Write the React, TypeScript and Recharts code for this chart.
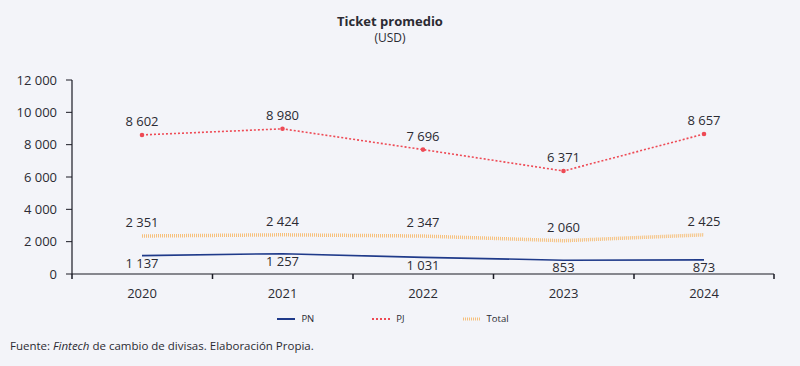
import React from 'react';
import { LineChart, Line, XAxis, YAxis, LabelList } from 'recharts';

const years = ['2020', '2021', '2022', '2023', '2024'];
const pn = [1137, 1257, 1031, 853, 873];
const pj = [8602, 8980, 7696, 6371, 8657];
const total = [2351, 2424, 2347, 2060, 2425];
const yTicks = [0, 2000, 4000, 6000, 8000, 10000, 12000];

const data = years.map((y, i) => ({ year: y, PN: pn[i], PJ: pj[i], Total: total[i] }));

const fmt = (v: any) => String(v).replace(/\B(?=(\d{3})+(?!\d))/g, ' ');

const FONT = '"Open Sans", "Noto Sans", sans-serif';
const TXT = '#2b2b33';
const BG = '#f3f4f9';
const AX = '#1a1a24';
const C_PN = '#1f3a8a';
const C_PJ = '#ee4a55';
const C_TOT = '#f6c07c';
const HALF_BAND = 70;

const legendItems = [
  { name: 'PN', color: C_PN, dash: undefined as any, w: 2 },
  { name: 'PJ', color: C_PJ, dash: '2 2', w: 2 },
  { name: 'Total', color: C_TOT, dash: '1 1', w: 3 },
];

const LegendBox = () => (
  <div style={{ position: 'absolute', top: 312, left: 0, width: 800, display: 'flex', justifyContent: 'center', fontFamily: FONT, fontSize: 9.5, color: TXT, lineHeight: '14px' }}>
    <div style={{ display: 'flex', marginLeft: -14 }}>
      {legendItems.map((it, i) => (
        <div key={it.name} style={{ display: 'flex', alignItems: 'center', marginRight: i < 2 ? 58 : 0 }}>
          <svg width={18} height={8} style={{ marginRight: 6 }}>
            <line x1={0} y1={4} x2={18} y2={4} stroke={it.color} strokeWidth={it.w} strokeDasharray={it.dash} />
          </svg>
          <span>{it.name}</span>
        </div>
      ))}
    </div>
  </div>
);

const XTick = (p: any) => {
  const { x, y, payload, index } = p;
  const last = index === years.length - 1;
  return (
    <g>
      <rect x={x - HALF_BAND - 0.75} y={y} width={1.5} height={5} fill={AX} />
      {last && <rect x={x + HALF_BAND - 0.75} y={y} width={1.5} height={5} fill={AX} />}
      <text x={x} y={y + 24} textAnchor="middle" fill={TXT} fontSize={13} fontFamily={FONT}>
        {payload.value}
      </text>
    </g>
  );
};

export default function App() {
  return (
    <div style={{ position: 'absolute', left: 0, top: 0, width: 800, height: 366, background: BG, fontFamily: FONT, color: TXT }}>
      <div style={{ position: 'absolute', top: 12, left: 0, width: 780, textAlign: 'center', fontSize: 13, fontWeight: 700, lineHeight: '18px' }}>
        Ticket promedio
      </div>
      <div style={{ position: 'absolute', top: 30, left: 0, width: 780, textAlign: 'center', fontSize: 12, lineHeight: '16px' }}>
        (USD)
      </div>
      <div style={{ position: 'absolute', left: 0, top: 0 }}>
        <LineChart width={800} height={366} data={data} margin={{ top: 80, right: 26, bottom: 91, left: 8 }}>
          <XAxis
            dataKey="year"
            padding={{ left: HALF_BAND, right: HALF_BAND }}
            axisLine={{ stroke: AX, strokeWidth: 1.2 }}
            tickLine={false}
            tickSize={0}
            tickMargin={0}
            tick={XTick}
            interval={0}
            height={1}
          />
          <YAxis
            domain={[0, 12000]}
            ticks={yTicks}
            tickFormatter={fmt}
            width={64}
            axisLine={{ stroke: AX, strokeWidth: 1.2 }}
            tickLine={{ stroke: AX }}
            tickSize={6}
            tickMargin={9}
            tick={{ fill: TXT, fontSize: 13, fontFamily: FONT }}
          />
          <Line dataKey="Total" stroke={C_TOT} strokeWidth={3.5} strokeDasharray="1 1" dot={false} isAnimationActive={false}>
            <LabelList dataKey="Total" position="top" offset={9} formatter={fmt} style={{ fill: TXT, fontSize: 13, fontFamily: FONT }} />
          </Line>
          <Line dataKey="PN" stroke={C_PN} strokeWidth={1.6} dot={false} isAnimationActive={false}>
            <LabelList dataKey="PN" position="bottom" offset={3} formatter={fmt} style={{ fill: TXT, fontSize: 13, fontFamily: FONT }} />
          </Line>
          <Line dataKey="PJ" stroke={C_PJ} strokeWidth={1.6} strokeDasharray="2 2" dot={{ r: 1.5, fill: C_PJ, stroke: C_PJ, strokeDasharray: '' }} isAnimationActive={false}>
            <LabelList dataKey="PJ" position="top" offset={9} formatter={fmt} style={{ fill: TXT, fontSize: 13, fontFamily: FONT }} />
          </Line>
        </LineChart>
      </div>
      <LegendBox />
      <div style={{ position: 'absolute', top: 337, left: 10, fontSize: 11.5, lineHeight: '18px' }}>
        Fuente: <i>Fintech</i> de cambio de divisas. Elaboración Propia.
      </div>
    </div>
  );
}
